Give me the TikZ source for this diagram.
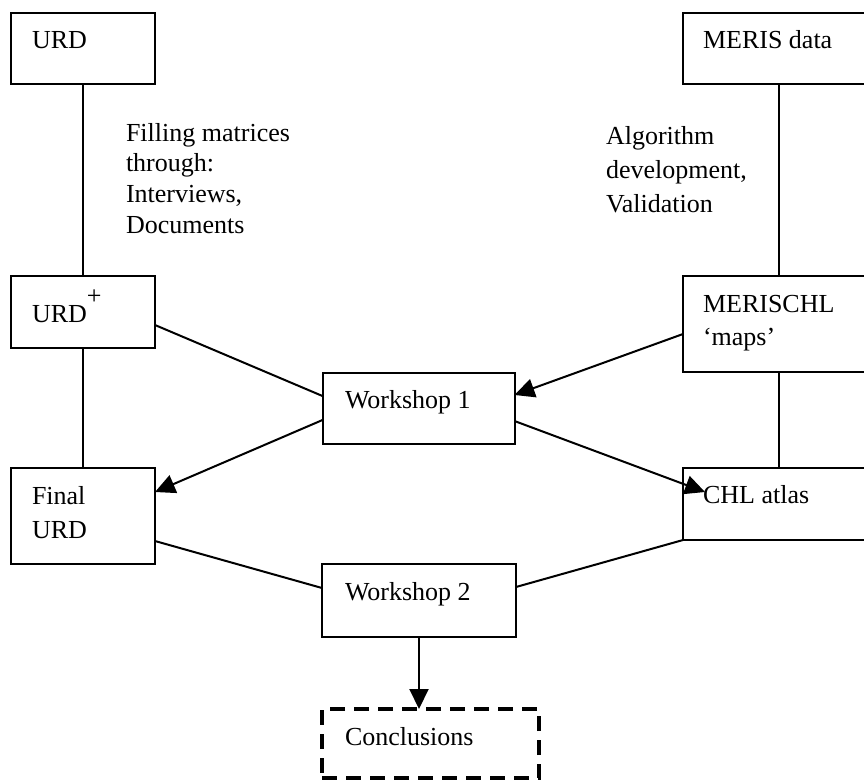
\documentclass[tikz,border=0pt]{standalone}
\usepackage{fontspec}
\setmainfont{Liberation Serif}
\usetikzlibrary{arrows.meta}
\begin{document}
\begin{tikzpicture}[x=1pt,y=-1pt,
  box/.style={draw, line width=2pt, inner sep=0pt, outer sep=0pt},
  dbox/.style={draw, line width=3.2pt, dash pattern=on 15pt off 9pt, inner sep=0pt, outer sep=0pt},
  txt/.style={anchor=base west, inner sep=0pt, outer sep=0pt, font=\fontsize{26}{31}\selectfont},
  con/.style={line width=2pt},
  arr/.style={con, -{Triangle[length=20pt,width=19pt]}}]
\useasboundingbox (0,0) rectangle (864,780);
\clip (0,0) rectangle (864,780);

% boxes
\node[box, minimum width=144pt, minimum height=71pt] (urd)      at (83,48.5) {};
\node[box, minimum width=192pt, minimum height=71pt] (meris)    at (779,48.5) {};
\node[box, minimum width=144pt, minimum height=72pt] (urdp)     at (83,312) {};
\node[box, minimum width=192pt, minimum height=96pt] (merischl) at (779,324) {};
\node[box, minimum width=192pt, minimum height=71pt] (w1)       at (418.5,408.5) {};
\node[box, minimum width=144pt, minimum height=96pt] (final)    at (83,516) {};
\node[box, minimum width=192pt, minimum height=72pt] (chl)      at (779,504) {};
\node[box, minimum width=194pt, minimum height=73pt] (w2)       at (419,600.5) {};
\node[dbox, minimum width=217pt, minimum height=69pt] (concl)   at (430.5,743.5) {};

% texts
\node[txt] (turd)   at (32,48)   {URD};
\node[txt] (tmeris) at (703,48)  {MERIS data};
\node[txt] (turdp)  at (32,322)  {URD\raisebox{18pt}{\fontsize{26}{26}\selectfont +}};
\node[txt] (tmchl)  at (703,312) {\vtop{\baselineskip=33pt\hbox{MERISCHL}\hbox{‘maps’}}};
\node[txt] (tw1)    at (345,408) {Workshop 1};
\node[txt] (tfinal) at (32,504)  {\vtop{\baselineskip=34pt\hbox{Final}\hbox{URD}}};
\node[txt] (tchl)   at (703,503) {CHL atlas};
\node[txt] (tw2)    at (345,600) {Workshop 2};
\node[txt] (tconcl) at (345,745) {Conclusions};
\node[txt] (tfill)  at (126,141) {\vtop{\baselineskip=30.7pt\hbox{Filling matrices}\hbox{through:}\hbox{Interviews,}\hbox{Documents}}};
\node[txt] (talgo)  at (606,144) {\vtop{\baselineskip=34pt\hbox{Algorithm}\hbox{development,}\hbox{Validation}}};

% connectors
\draw[con] (urd.south) -- (urdp.north);
\draw[con] (meris.south) -- (merischl.north);
\draw[con] (urdp.south) -- (final.north);
\draw[con] (merischl.south) -- (chl.north);
\draw[con] ([yshift=-13pt]urdp.east) -- ([yshift=12.5pt]w1.west);
\draw[arr] ([yshift=-10pt]merischl.west) -- ([yshift=13.5pt]w1.east);
\draw[arr] ([yshift=-11.5pt]w1.west) -- ([yshift=24pt]final.east);
\draw[arr] ([yshift=-12.5pt]w1.east) -- ([xshift=22pt,yshift=12pt]chl.west);
\draw[con] ([yshift=-25pt]final.east) -- ([yshift=12.5pt]w2.west);
\draw[con] (chl.south west) -- ([yshift=13.5pt]w2.east);
\draw[arr] (w2.south) -- (w2.south |- concl.north);
\end{tikzpicture}
\end{document}
